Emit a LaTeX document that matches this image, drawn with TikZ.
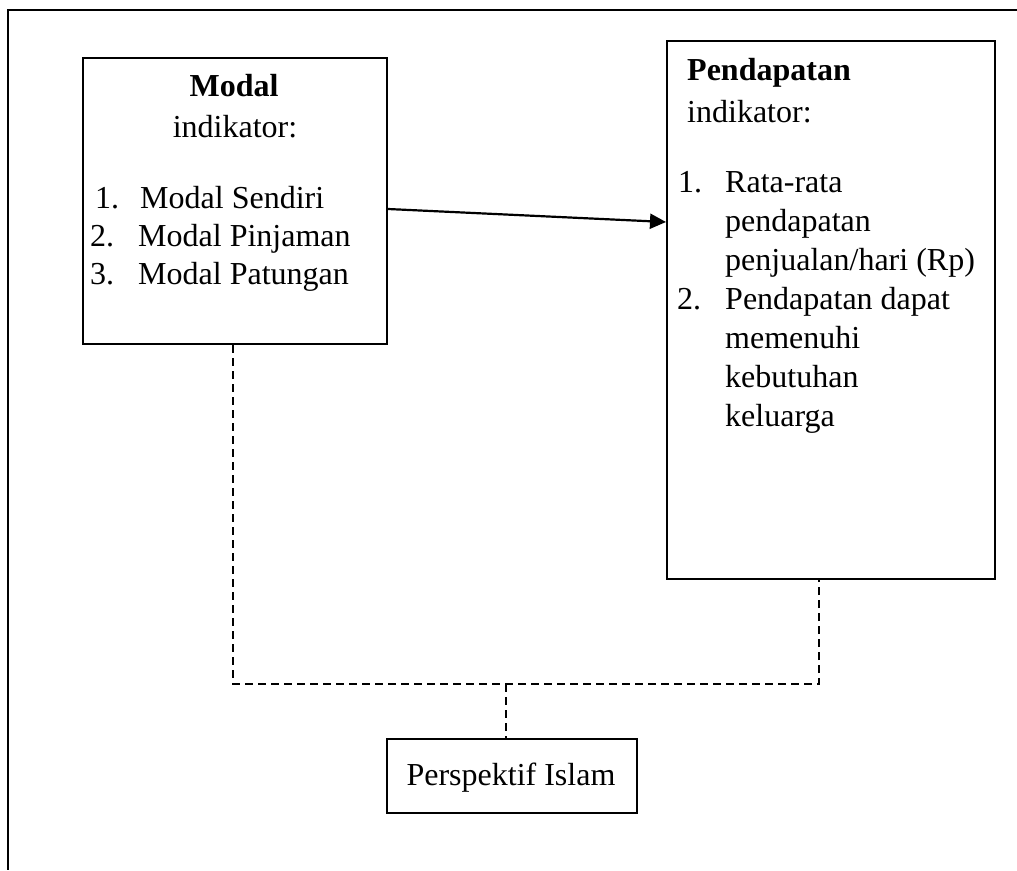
\documentclass[tikz,border=0pt]{standalone}
\usepackage{fontspec}
\setmainfont{Liberation Serif}
\usetikzlibrary{arrows.meta,calc}
\begin{document}
\begin{tikzpicture}[x=1pt,y=-1pt,
  frame/.style={line width=2pt},
  box/.style={draw,line width=2pt,inner sep=0pt,anchor=north west},
  txt/.style={anchor=base west,inner sep=0pt,font=\fontsize{32}{38}\selectfont},
  ctxt/.style={anchor=base,inner sep=0pt,font=\fontsize{32}{38}\selectfont},
  arrowline/.style={line width=2.2pt,-{Triangle[length=16pt,width=15pt]}},
  dline/.style={line width=1.8pt,dash pattern=on 8pt off 5pt}]
\useasboundingbox (0,0) rectangle (1017,870);
% outer frame
\draw[frame] (1017,10) -- (8,10) -- (8,870);
% boxes
\node[box,minimum width=304pt,minimum height=286pt] (modal) at (82,57) {};
\node[box,minimum width=328pt,minimum height=538pt] (pend) at (666,40) {};
\node[box,minimum width=250pt,minimum height=74pt] (persp) at (386,738) {};
% Modal text
\node[ctxt] (mt) at (234,96) {\textbf{Modal}};
\node[ctxt] (mi) at (235,137) {indikator:};
\node[txt] (m1n) at (95,208) {1.};
\node[txt] (m1) at (140,208) {Modal Sendiri};
\node[txt] (m2n) at (90,246) {2.};
\node[txt] (m2) at (138,246) {Modal Pinjaman};
\node[txt] (m3n) at (90,284) {3.};
\node[txt] (m3) at (138,284) {Modal Patungan};
% Pendapatan text
\node[txt] (pt) at (687,80) {\textbf{Pendapatan}};
\node[txt] (pi) at (687,122) {indikator:};
\node[txt] (p1n) at (678,192) {1.};
\node[txt] (p1a) at (725,192) {Rata-rata};
\node[txt] (p1b) at (725,231) {pendapatan};
\node[txt] (p1c) at (725,270) {penjualan/hari (Rp)};
\node[txt] (p2n) at (677,309) {2.};
\node[txt] (p2a) at (725,309) {Pendapatan dapat};
\node[txt] (p2b) at (725,348) {memenuhi};
\node[txt] (p2c) at (725,387) {kebutuhan};
\node[txt] (p2d) at (725,426) {keluarga};
% Perspektif text
\node[ctxt] (ps) at (511,785) {Perspektif Islam};
% connectors
\draw[arrowline] ([yshift=-8pt]modal.east) -- ([yshift=88pt]pend.west);
\coordinate (j) at (506,684);
\draw[dline] ([xshift=-2pt]modal.south) |- (j) -| ([xshift=-12pt]pend.south);
\draw[dline] (j) -- (j |- persp.north);
\end{tikzpicture}
\end{document}
